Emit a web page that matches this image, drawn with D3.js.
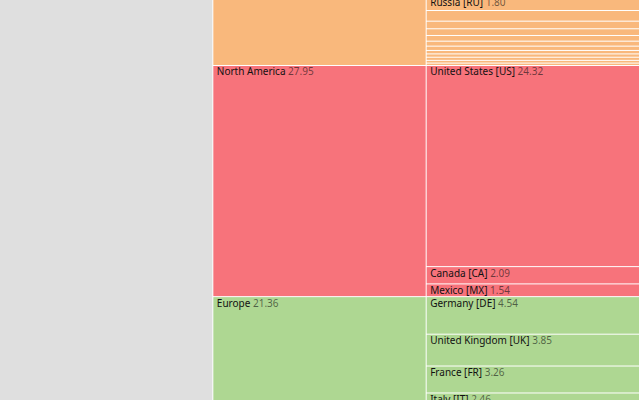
<!DOCTYPE html>
<html>
<head>
<meta charset="utf-8">
<script src="https://cdn.jsdelivr.net/npm/d3@7"></script>
<style>
  html, body { margin: 0; padding: 0; background: #fff; overflow: hidden; }
  svg { display: block; font-family: "Noto Sans", sans-serif; font-size: 10px; }
</style>
</head>
<body>
<svg id="chart" width="640" height="400"></svg>
<script>
// ---- Data: share of world GDP (%) ----
const continents = ["Asia", "North America", "Europe", "South America", "Oceania", "Africa"];

const asiaCountries = ["China", "Japan", "India", "South Korea", "Russia", "Indonesia", "Saudi Arabia", "Turkey", "Taiwan", "Iran", "Israel", "Thailand", "United Arab Emirates", "Singapore", "Philippines", "Malaysia"];
const asiaCodes     = ["CN", "JP", "IN", "KR", "RU", "ID", "SA", "TR", "TW", "IR", "IL", "TH", "AE", "SG", "PH", "MY"];
const asiaValues    = [17.86, 4.94, 3.35, 1.88, 1.80, 1.29, 0.92, 0.81, 0.69, 0.60, 0.52, 0.42, 0.40, 0.38, 0.33, 0.29];

const naCountries = ["United States", "Canada", "Mexico"];
const naCodes     = ["US", "CA", "MX"];
const naValues    = [24.32, 2.09, 1.54];

const euCountries = ["Germany", "United Kingdom", "France", "Italy", "Spain", "Netherlands", "Switzerland", "Poland", "Sweden", "Belgium", "Ireland", "Norway"];
const euCodes     = ["DE", "UK", "FR", "IT", "ES", "NL", "CH", "PL", "SE", "BE", "IE", "NO"];
const euValues    = [4.54, 3.85, 3.26, 2.46, 1.76, 1.22, 0.99, 0.86, 0.69, 0.68, 0.55, 0.50];

const saCountries = ["Brazil", "Argentina", "Colombia", "Chile"];
const saCodes     = ["BR", "AR", "CO", "CL"];
const saValues    = [2.00, 0.60, 0.35, 0.32];

const ocCountries = ["Australia", "New Zealand"];
const ocCodes     = ["AU", "NZ"];
const ocValues    = [1.70, 0.25];

const afCountries = ["Nigeria", "Egypt", "South Africa"];
const afCodes     = ["NG", "EG", "ZA"];
const afValues    = [0.48, 0.45, 0.42];

const continentColors = ["#f9b87c", "#f7737b", "#aed792", "#9ecae9", "#c5b0d5", "#e7cb94"];
const rootColor = "#dfdfdf";

// ---- Build hierarchy ----
function kids(names, codes, values) {
  return names.map((n, i) => ({ name: `${n} [${codes[i]}]`, value: values[i] }));
}
const groups = [
  kids(asiaCountries, asiaCodes, asiaValues),
  kids(naCountries, naCodes, naValues),
  kids(euCountries, euCodes, euValues),
  kids(saCountries, saCodes, saValues),
  kids(ocCountries, ocCodes, ocValues),
  kids(afCountries, afCodes, afValues)
];
const data = { name: "World", children: continents.map((c, i) => ({ name: c, children: groups[i] })) };

const W = 640, H = 400;
const pxPerUnit = 8.27;       // vertical scale (px per GDP %)
const scrollTop = 235.7;      // the view is scrolled down the tall icicle

const root = d3.hierarchy(data)
  .sum(d => d.value || 0)
  .sort((a, b) => b.value - a.value);
d3.partition()(root);   // unit size; map with scales

const total = root.value;
const y = d3.scaleLinear().domain([0, 1]).range([-scrollTop, -scrollTop + total * pxPerUnit]);
const x = d3.scaleLinear().domain([0, 1]).range([0, W]);

const colorOf = d => {
  if (d.depth === 0) return rootColor;
  let a = d; while (a.depth > 1) a = a.parent;
  return continentColors[continents.indexOf(a.data.name)];
};

const fmt = d3.format(".2f");
const svg = d3.select("#chart");

const cell = svg.selectAll("g.cell")
  .data(root.descendants())
  .join("g")
  .attr("class", "cell")
  .attr("transform", d => `translate(${x(d.y0)},${y(d.x0)})`);

cell.append("rect")
  .attr("width", d => x(d.y1) - x(d.y0) - 1)
  .attr("height", d => { const h = y(d.x1) - y(d.x0); return Math.max(0, h - Math.min(1, h / 2)); })
  .attr("fill", colorOf);

// label only cells tall enough whose label falls inside the scrolled view
const labelled = cell.filter(d => (y(d.x1) - y(d.x0)) > 12 && y(d.x0) + 9.5 > 0 && y(d.x0) < H);
const text = labelled.append("text")
  .attr("x", 3.5)
  .attr("y", 9.5)
  .attr("fill", "#111");
text.append("tspan").text(d => d.data.name);
text.append("tspan").attr("fill-opacity", 0.6).text(d => " " + fmt(d.value));
</script>
</body>
</html>
